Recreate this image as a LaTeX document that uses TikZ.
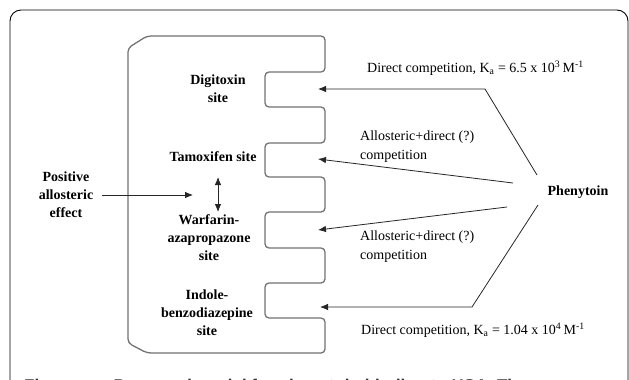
\documentclass[tikz,border=0pt]{standalone}
\usepackage{fontspec}
\setmainfont{Liberation Serif}
\setsansfont{Liberation Sans}
\usetikzlibrary{arrows.meta}

\tikzset{
    site/.style={font=\bfseries\fontsize{14}{18}\selectfont, align=center, inner sep=1pt},
    note/.style={font=\fontsize{14}{19}\selectfont, align=left, anchor=west, inner sep=1pt},
    hit/.style={draw=black!85, line width=0.8pt, -{Latex[length=8pt,width=6.5pt]}},
    pocket/.style={draw=black!55, line width=1.3pt, rounded corners=4pt}
}

\begin{document}
\begin{tikzpicture}[x=1pt,y=-1pt]
    \useasboundingbox (0,0) rectangle (629,380);
    \clip (0,0) rectangle (629,380);
    \fill[white] (0,0) rectangle (629,380);
    \draw[line width=0.9pt, rounded corners=11pt] (10,420) -- (10,10) -- (628,10) -- (628,420);

    \draw[pocket] (147,36) -- (325,36) -- (325,72) -- (265,72) -- (265,107) -- (325,107)
        -- (325,143) -- (265,143) -- (265,177) -- (325,177)
        -- (325,212) -- (265,212) -- (265,248) -- (325,248)
        -- (325,283) -- (265,283) -- (265,318) -- (325,318)
        -- (325,353) -- (147,353) -- (128,343) -- (128,48) -- cycle;

    \node[site] (digi) at (218,89) {Digitoxin\\site};
    \node[site] (tamo) at (213,157) {Tamoxifen site};
    \node[site] (warf) at (209,238) {Warfarin-\\azapropazone\\site};
    \node[site] (indo) at (207,313) {Indole-\\benzodiazepine\\site};
    \node[site] (posi) at (66,195) {Positive\\allosteric\\effect};
    \node[site] (phen) at (578,192) {Phenytoin};

    \node[note] (dc1) at (366,68) {Direct competition, K\textsubscript{a} = 6.5 x 10\textsuperscript{3}\,M\textsuperscript{-1}};
    \node[note] (ad1) at (359,147) {Allosteric+direct (?)\\competition};
    \node[note] (ad2) at (359,247) {Allosteric+direct (?)\\competition};
    \node[note] (dc2) at (360,330) {Direct competition, K\textsubscript{a} = 1.04 x 10\textsuperscript{4}\,M\textsuperscript{-1}};

    \coordinate (s1) at (318,89);
    \coordinate (s2) at (318,159);
    \coordinate (s3) at (318,230);
    \coordinate (s4) at (320,307);
    \coordinate (b1) at (485,89);
    \coordinate (b4) at (472,307);
    \coordinate (p1) at (537,175);
    \coordinate (p2) at (513,183);
    \coordinate (p3) at (507,207);
    \coordinate (p4) at (538,205);
    \coordinate (u1) at (218,177);
    \coordinate (u2) at (218,212);
    \coordinate (pe) at (193,195);

    \draw[hit] (p1) -- (b1) -- (s1);
    \draw[hit] (p2) -- (s2);
    \draw[hit] (p3) -- (s3);
    \draw[hit] (p4) -- (b4) -- (s4);
    \draw[hit, {Latex[length=8pt,width=6.5pt]}-{Latex[length=8pt,width=6.5pt]}] (u1) -- (u2);
    \draw[hit, shorten <=8pt] (posi.east) -- (pe);

    \node[font=\sffamily\bfseries\fontsize{17}{20}\selectfont, text=black!80, anchor=base west, inner sep=0pt] (capt) at (24,391) {Figure\hspace{2.2em}Proposed model for phenytoin binding to HSA. The};
\end{tikzpicture}
\end{document}
